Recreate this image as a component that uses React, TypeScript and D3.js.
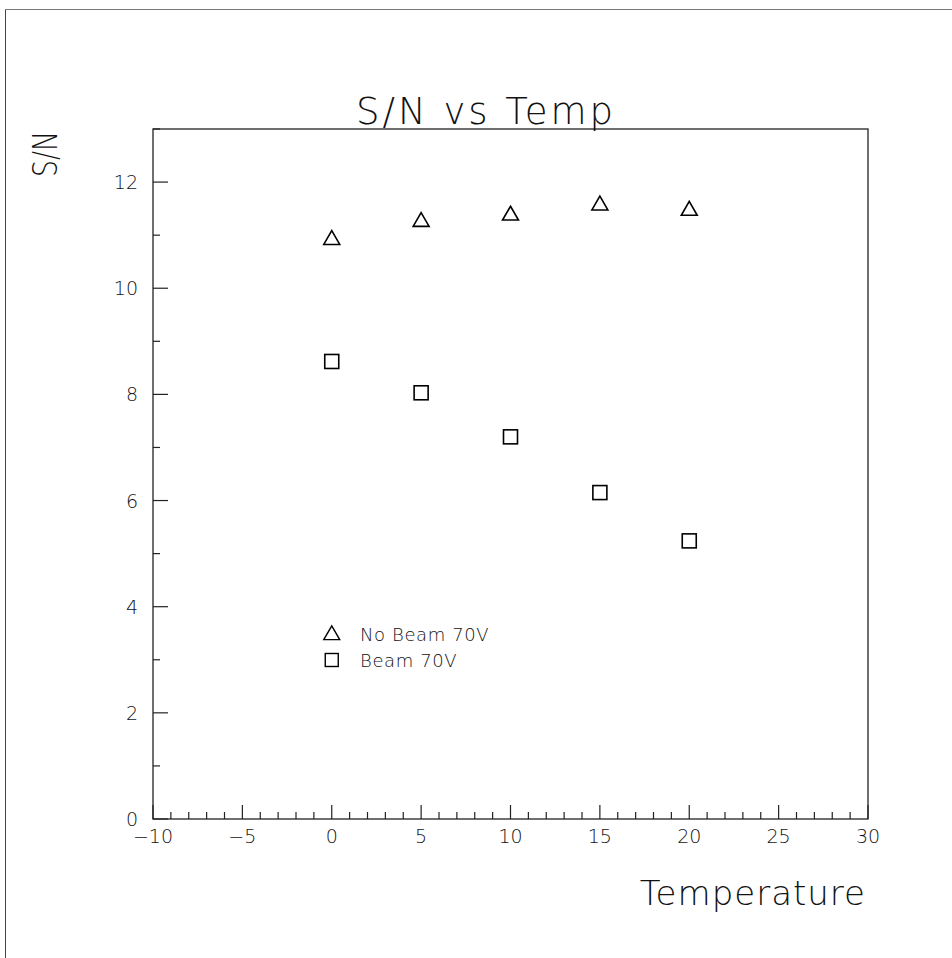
import { useRef, useEffect } from 'react'
import * as d3 from 'd3'

const temps = [0, 5, 10, 15, 20]
const noBeam = [10.93, 11.27, 11.39, 11.58, 11.48]
const beam = [8.62, 8.03, 7.2, 6.15, 5.24]
const xTicks = [-10, -5, 0, 5, 10, 15, 20, 25, 30]
const yTicks = [0, 2, 4, 6, 8, 10, 12]
const legendLabels = ['No Beam 70V', 'Beam 70V']

const W = 952
const H = 958
const FONT = '"DejaVu Sans", sans-serif'

export default function App() {
  const ref = useRef<SVGSVGElement>(null)

  useEffect(() => {
    const svg = d3.select(ref.current)
    svg.selectAll('*').remove()

    const x = d3.scaleLinear().domain([-10, 30]).range([153, 868])
    const y = d3.scaleLinear().domain([0, 13]).range([819, 129])

    // outer pad frame
    svg.append('line').attr('x1', 5.5).attr('x2', W).attr('y1', 9.5).attr('y2', 9.5)
      .attr('stroke', '#777').attr('stroke-width', 1)
    svg.append('line').attr('x1', 5.5).attr('x2', 5.5).attr('y1', 9.5).attr('y2', H)
      .attr('stroke', '#444').attr('stroke-width', 1)

    // plot frame
    svg.append('rect')
      .attr('x', x(-10)).attr('y', y(13))
      .attr('width', x(30) - x(-10)).attr('height', y(0) - y(13))
      .attr('fill', 'none').attr('stroke', '#222').attr('stroke-width', 1.3)

    // ticks (inward)
    const g = svg.append('g').attr('stroke', '#222').attr('stroke-width', 1.2)
    d3.range(-10, 31, 1).forEach(v => {
      const major = v % 5 === 0
      g.append('line').attr('x1', x(v)).attr('x2', x(v))
        .attr('y1', y(0)).attr('y2', y(0) - (major ? 14 : 7))
    })
    d3.range(0, 14, 1).forEach(v => {
      const major = v % 2 === 0
      g.append('line').attr('x1', x(-10)).attr('x2', x(-10) + (major ? 15 : 7))
        .attr('y1', y(v)).attr('y2', y(v))
    })

    const txt = svg.append('g').attr('font-family', FONT).attr('font-weight', 200).attr('fill', '#111')

    xTicks.forEach(v => {
      txt.append('text').attr('x', x(v)).attr('y', y(0) + 24)
        .attr('text-anchor', 'middle').attr('font-size', 19)
        .text(v < 0 ? `\u2212${Math.abs(v)}` : String(v))
    })
    yTicks.forEach(v => {
      txt.append('text').attr('x', x(-10) - 15).attr('y', y(v) + 7)
        .attr('text-anchor', 'end').attr('font-size', 19)
        .text(String(v))
    })

    // titles
    txt.append('text').attr('x', 486).attr('y', 124).attr('text-anchor', 'middle')
      .attr('font-size', 37).attr('letter-spacing', 3).text('S/N vs Temp')
    txt.append('text').attr('transform', 'translate(57,177) rotate(-90)')
      .attr('font-size', 34).attr('textLength', 46).attr('lengthAdjust', 'spacingAndGlyphs').text('S/N')
    txt.append('text').attr('x', 866).attr('y', 905).attr('text-anchor', 'end')
      .attr('font-size', 34).attr('letter-spacing', 1).text('Temperature')

    const tri = d3.symbol(d3.symbolTriangle, 110)
    const sq = 14

    svg.append('g').selectAll('path').data(temps).enter().append('path')
      .attr('d', tri())
      .attr('transform', (d, i) => `translate(${x(d)},${y(noBeam[i]) + 1})`)
      .attr('fill', 'none').attr('stroke', '#000').attr('stroke-width', 1.6)

    svg.append('g').selectAll('rect').data(temps).enter().append('rect')
      .attr('x', d => x(d) - sq / 2)
      .attr('y', (d, i) => y(beam[i]) - sq / 2)
      .attr('width', sq).attr('height', sq)
      .attr('fill', 'none').attr('stroke', '#000').attr('stroke-width', 1.6)

    // legend
    const lx = x(0)
    const ly = [634, 660]
    svg.append('path').attr('d', tri())
      .attr('transform', `translate(${lx},${ly[0] + 1})`)
      .attr('fill', 'none').attr('stroke', '#000').attr('stroke-width', 1.4)
    svg.append('rect').attr('x', lx - 6.5).attr('y', ly[1] - 6.5).attr('width', 13).attr('height', 13)
      .attr('fill', 'none').attr('stroke', '#000').attr('stroke-width', 1.4)
    legendLabels.forEach((l, i) => {
      txt.append('text').attr('x', 360).attr('y', ly[i] + 7).attr('font-size', 18)
        .attr('letter-spacing', 0.6).text(l)
    })
  }, [])

  return (
    <svg ref={ref} width={W} height={H}
      style={{ position: 'absolute', left: 0, top: 0, background: '#fff' }} />
  )
}
